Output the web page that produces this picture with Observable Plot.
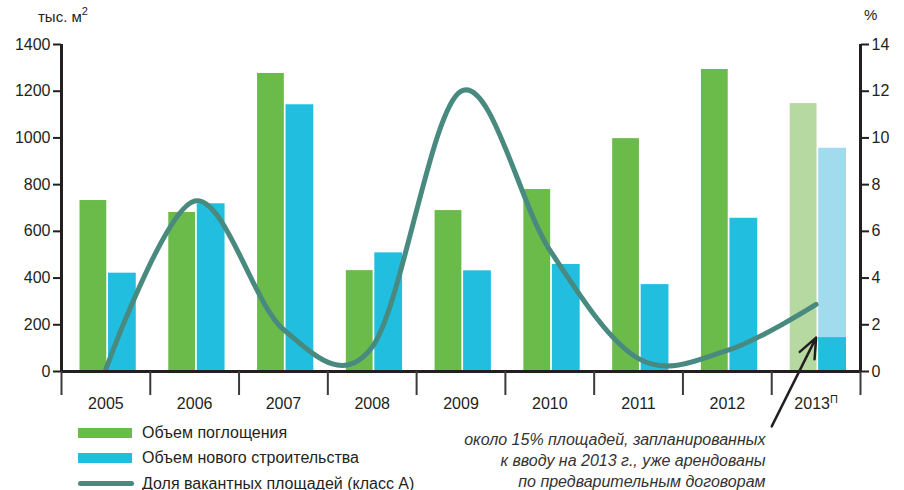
<!DOCTYPE html>
<html>
<head>
<meta charset="utf-8">
<script src="https://cdn.jsdelivr.net/npm/d3@7"></script>
<script src="https://cdn.jsdelivr.net/npm/@observablehq/plot@0.6"></script>
<style>
  html, body { margin: 0; padding: 0; background: #fff; }
  #wrap { position: relative; width: 904px; height: 490px; font-family: "Liberation Sans", Arial, sans-serif; color: #231f20; }
  #legend { position: absolute; left: 78px; top: 420px; font-size: 16px; color: #231f20; }
  #legend .row { display: flex; align-items: center; height: 25.5px; }
  #legend .sw { width: 54px; height: 10px; margin-right: 10px; }
  #legend .ln { width: 56px; height: 5px; border-radius: 3px; margin-right: 8px; }
  .unit { position: absolute; font-size: 15px; color: #231f20; }
  .unit sup { font-size: 11px; position: relative; top: -1px; }
</style>
</head>
<body>
<div id="wrap">
  <div class="unit" style="left:38px; top:6px;">тыс. м<sup>2</sup></div>
  <div class="unit" style="left:864px; top:6px;">%</div>
  <div id="legend"></div>
</div>
<script>
// Office market, class A: take-up, new supply (thousand m²) and vacancy rate (%)
const years = [2005, 2006, 2007, 2008, 2009, 2010, 2011, 2012, 2013];
const absorption = [732, 681, 1276, 432, 689, 779, 997, 1293, 1147];
const construction = [421, 718, 1142, 508, 431, 458, 372, 656, 956];
const vacancy = [0.1, 7.3, 1.8, 1.05, 12.0, 5.2, 0.55, 0.9, 2.87];
const forecastYear = 2013;
const preLeased2013 = 145; // ~15% of the 2013 new supply already leased
const leftTicks = [0, 200, 400, 600, 800, 1000, 1200, 1400];
const rightTicks = [0, 2, 4, 6, 8, 10, 12, 14];
const seriesNames = ["Объем поглощения", "Объем нового строительства", "Доля вакантных площадей (класс А)"];
const note = "около 15% площадей, запланированных\nк вводу на 2013 г., уже арендованы\nпо предварительным договорам";

const colors = {
  green: "#6bbb4b", greenLight: "#b6d9a1",
  blue: "#22bee0", blueLight: "#a2dbee",
  line: "#488a7f", ink: "#231f20"
};

const rows = years.map((year, i) => ({
  year,
  absorption: absorption[i],
  construction: construction[i],
  vacancy: vacancy[i],
  forecast: year === forecastYear
}));

// vacancy (%) shares the bar scale: 14% ↔ 1400
const pctFactor = 100;
const bounds = [years[0] - 0.5, ...years.map(y => y + 0.5)];

const chart = Plot.plot({
  width: 904,
  height: 490,
  marginLeft: 61,
  marginRight: 44,
  marginTop: 44,
  marginBottom: 119,
  style: { fontFamily: "'Liberation Sans', Arial, sans-serif", fontSize: "16px", color: colors.ink, background: "transparent" },
  x: { domain: [years[0] - 0.5, years[years.length - 1] + 0.5] },
  y: { domain: [0, 1400] },
  marks: [
    Plot.rectY(rows, {
      x1: d => d.year - 0.5, x2: d => d.year + 0.5, y: "absorption",
      fill: d => d.forecast ? colors.greenLight : colors.green,
      insetLeft: 18.5, insetRight: 43.5
    }),
    Plot.rectY(rows, {
      x1: d => d.year - 0.5, x2: d => d.year + 0.5, y: "construction",
      fill: d => d.forecast ? colors.blueLight : colors.blue,
      insetLeft: 47, insetRight: 14
    }),
    Plot.rectY([{ year: forecastYear, value: preLeased2013 }], {
      x1: d => d.year - 0.5, x2: d => d.year + 0.5, y: "value",
      fill: colors.blue, insetLeft: 47, insetRight: 14
    }),
    Plot.line(rows, {
      x: "year", y: d => d.vacancy * pctFactor,
      stroke: colors.line, strokeWidth: 5, curve: "cardinal",
      strokeLinecap: "round", strokeLinejoin: "round"
    }),
    // axis lines
    Plot.ruleX([bounds[0], bounds[bounds.length - 1]], { y1: 0, y2: 1400, stroke: colors.ink, strokeWidth: 3 }),
    Plot.ruleY([0], { x1: bounds[0], x2: bounds[bounds.length - 1], stroke: colors.ink, strokeWidth: 3 }),
    // category separators below the axis
    Plot.axisX({ ticks: bounds, tickSize: 24, tickFormat: () => "", stroke: "#3a3a3a", strokeWidth: 2 }),
    Plot.axisX({ ticks: years, tickSize: 0, tickPadding: 26, tickFormat: d => String(d), fontSize: 16 }),
    Plot.axisY({ anchor: "left", ticks: leftTicks, tickSize: 8, tickPadding: 3, tickFormat: d => String(d), strokeWidth: 2 }),
    Plot.axisY({ anchor: "right", ticks: rightTicks.map(t => t * pctFactor), tickSize: 8, tickPadding: 3, tickFormat: d => String(d / pctFactor), strokeWidth: 2 }),
    // note pointing at the pre-leased part of 2013 supply
    Plot.arrow([{ x: forecastYear, y: preLeased2013 }], {
      x1: d => d.x - 0.5, y1: -235, x2: "x", y2: "y",
      stroke: colors.ink, strokeWidth: 2.5, headLength: 13, headAngle: 45
    }),
    Plot.text([note], {
      frameAnchor: "bottom-right", dx: -95, dy: 59, text: d => d,
      textAnchor: "end", lineAnchor: "top", lineHeight: 1.3,
      fontStyle: "italic", fontSize: 16, fill: "#333"
    })
  ]
});

document.getElementById("wrap").prepend(chart);

// forecast mark on the 2013 label
d3.select(chart).selectAll("text")
  .filter(function () { return this.textContent === String(forecastYear); })
  .append("tspan").attr("dy", "-0.55em").attr("font-size", "11px").text("П");

// legend
const legend = d3.select("#legend");
[[colors.green, "sw"], [colors.blue, "sw"], [colors.line, "ln"]].forEach(([c, cls], i) => {
  const row = legend.append("div").attr("class", "row");
  row.append("div").attr("class", cls).style("background", c);
  row.append("span").text(seriesNames[i]);
});
</script>
</body>
</html>
